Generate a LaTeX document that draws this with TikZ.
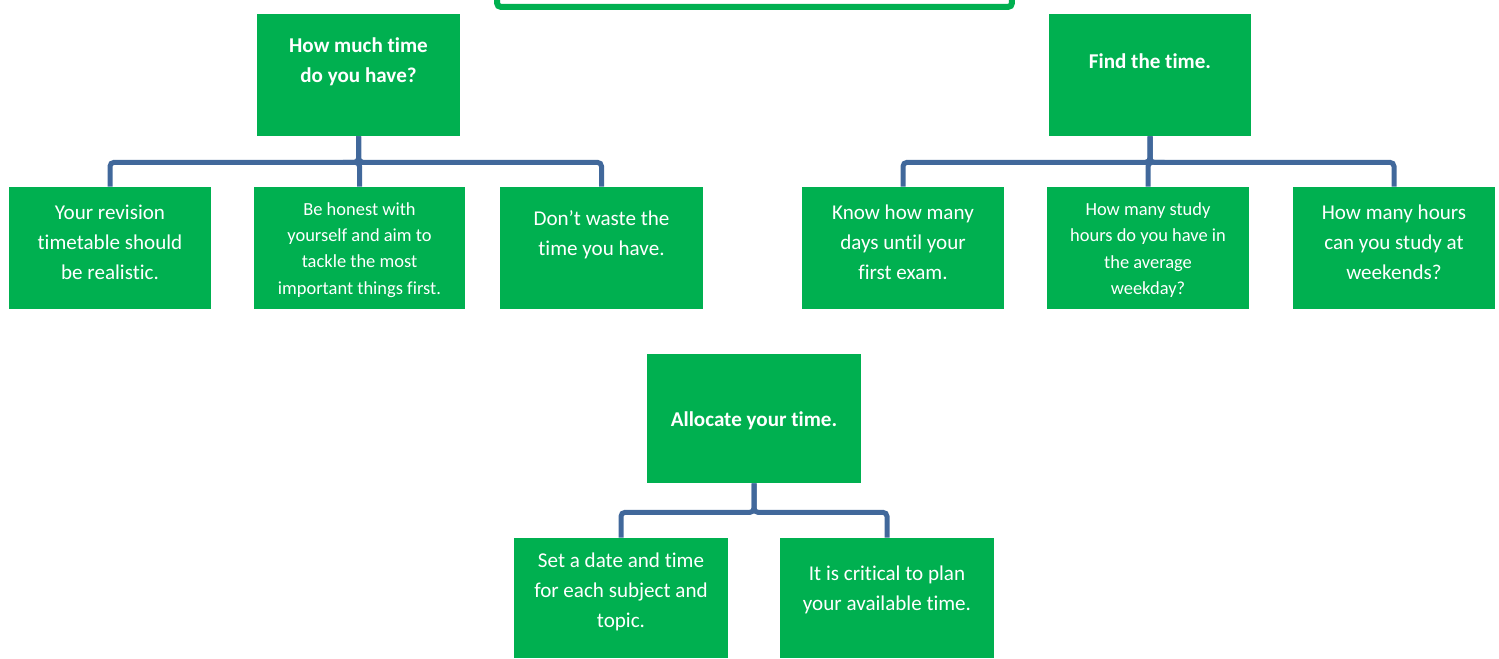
\documentclass[tikz,border=0pt]{standalone}
\usepackage{fontspec}
\setmainfont[Ligatures={NoCommon,NoDiscretionary}]{Carlito}
\definecolor{boxgreen}{RGB}{0,176,80}
\definecolor{linkblue}{RGB}{65,104,155}
\tikzset{
  leaf/.style={fill=boxgreen, inner sep=0pt, minimum width=4.06cm, minimum height=2.44cm},
  txt/.style={text=white, align=center, inner sep=0pt, font=\fontsize{12}{17}\selectfont},
  smalltxt/.style={txt, font=\fontsize{10.5}{15}\selectfont},
  boldtxt/.style={txt, font=\fontsize{12}{17}\selectfont\bfseries},
  link/.style={draw=linkblue, line width=0.1cm, rounded corners=0.08cm},
}
\begin{document}
\begin{tikzpicture}[x=0.02cm, y=-0.02cm]
	\useasboundingbox (0,0) rectangle (1499,659);
	\node[draw=boxgreen, line width=0.12cm, rounded corners=0.08cm, minimum width=10.3cm, minimum height=0.94cm, inner sep=0pt] (head) at (754.5,-16.5) {};

	\foreach \n/\x/\y/\d/\t in {p1/358.5/75/62/{How much time\\do you have?}, p2/1150/75/61/{Find the time.}} {
		\node[leaf] (\n) at (\x,\y) {};
		\node[boldtxt] (\n-t) at (\x,\d) {\t};
	}
	\node[leaf, minimum width=4.28cm, minimum height=2.58cm] (p3) at (754,418.5) {};
	\node[boldtxt] (p3-t) at (754,421) {Allocate your time.};

	\foreach \n/\x/\d/\t in {c1/110/242/{Your revision\\timetable should\\be realistic.}, c3/601.5/235/{Don’t waste the\\time you have.}, c4/903/242/{Know how many\\days until your\\first exam.}, c6/1394/242/{How many hours\\can you study at\\weekends?}} {
		\node[leaf] (\n) at (\x,248) {};
		\node[txt] (\n-t) at (\x,\d) {\t};
	}
	\foreach \n/\x/\w/\t in {c2/359.5/4.22cm/{Be honest with\\yourself and aim to\\tackle the most\\important things first.}, c5/1148/4.06cm/{How many study\\hours do you have in\\the average\\weekday?}} {
		\node[leaf, minimum width=\w] (\n) at (\x,248) {};
		\node[smalltxt] (\n-t) at (\x,250) {\t};
	}
	\foreach \n/\x/\d/\t in {c7/621/592/{Set a date and time\\for each subject and\\topic.}, c8/887/589.5/{It is critical to plan\\your available time.}} {
		\node[leaf, minimum width=4.28cm, minimum height=2.4cm] (\n) at (\x,598) {};
		\node[txt] (\n-t) at (\x,\d) {\t};
	}

	\foreach \c in {c1,c2,c3}
		\draw[link] (p1.south) -- ++(0,26) -| (\c.north);
	\foreach \c in {c4,c5,c6}
		\draw[link] (p2.south) -- ++(0,26) -| (\c.north);
	\foreach \c in {c7,c8}
		\draw[link] (p3.south) -- ++(0,29) -| (\c.north);
\end{tikzpicture}
\end{document}
